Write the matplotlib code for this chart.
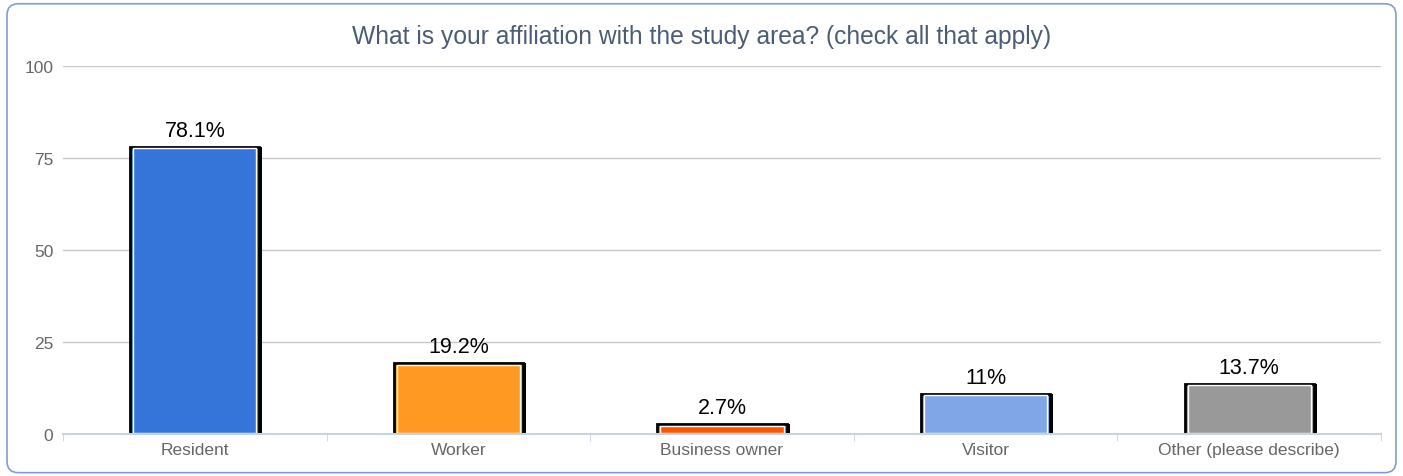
import matplotlib
matplotlib.use('Agg')
import matplotlib.pyplot as plt
from matplotlib.patches import FancyBboxPatch

categories = ['Resident', 'Worker', 'Business owner', 'Visitor', 'Other (please describe)']
values = [78.1, 19.2, 2.7, 11, 13.7]
labels = ['78.1%', '19.2%', '2.7%', '11%', '13.7%']
colors = ['#3575d9', '#ff9922', '#ff5500', '#80a6e8', '#999999']
yticks = [0, 25, 50, 75, 100]

plt.rcParams['font.family'] = ['Liberation Sans', 'DejaVu Sans']

fig = plt.figure(figsize=(14.03, 4.77), dpi=100)
ax = fig.add_axes([0.0449, 0.088, 0.9394, 0.7715])

# rounded frame round the whole chart
frame = FancyBboxPatch((0.005, 0.007), 0.99, 0.983, boxstyle='round,pad=0,rounding_size=0.008',
                       transform=fig.transFigure, fill=False, edgecolor='#7f9fcc', linewidth=1.2,
                       mutation_aspect=14.03 / 4.77)
fig.patches.append(frame)

x = list(range(len(categories)))
width = 0.49
px_x = 5 / 1318.0
px_y = 100 / 368.0

# shadow on the right of each bar
ax.bar([i + 3 * px_x for i in x], values, width, color='black', zorder=2)
ax.bar(x, values, width, color=colors, edgecolor='black', linewidth=2, zorder=3)
# thin white inner border
ax.bar(x, [v - 3 * px_y for v in values], width - 6 * px_x, bottom=1.5 * px_y,
       fill=False, edgecolor='white', linewidth=1, zorder=4)

for i, v in enumerate(values):
    ax.text(i, v + 1.6, labels[i], ha='center', va='bottom', fontsize=15.5, color='black')

ax.set_xlim(-0.5, 4.5)
ax.set_ylim(0, 100)
ax.set_yticks(yticks)
ax.set_xticks(x)
ax.set_xticklabels(categories)
ax.set_xticks([-0.5, 0.5, 1.5, 2.5, 3.5, 4.5], minor=True)
ax.tick_params(axis='x', which='major', length=0, pad=6, labelsize=12.5, labelcolor='#666666')
ax.tick_params(axis='x', which='minor', length=5, color='#c5d3e3', direction='out')
ax.tick_params(axis='y', length=0, pad=7, labelsize=12.5, labelcolor='#666666')
ax.grid(axis='y', color='#c8c8c8', linewidth=1, zorder=0)
ax.set_axisbelow(True)
for s in ['top', 'right', 'left']:
    ax.spines[s].set_visible(False)
ax.spines['bottom'].set_color('#c5d3e3')
ax.spines['bottom'].set_linewidth(1.5)
ax.spines['bottom'].set_zorder(5)

fig.text(0.5, 0.922, 'What is your affiliation with the study area? (check all that apply)',
         ha='center', va='center', fontsize=17.7, color='#4a5d75')

fig.savefig('out.png', dpi=100)
